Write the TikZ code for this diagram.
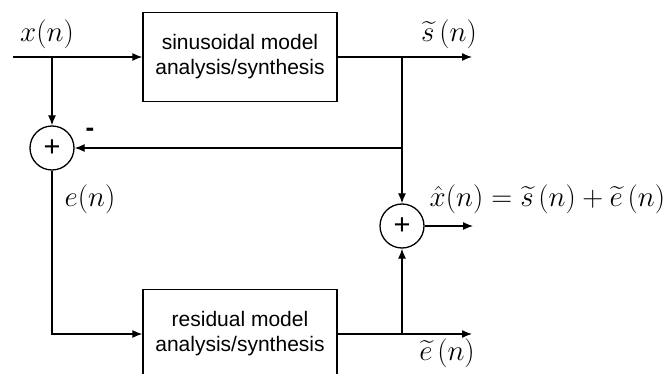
\RequirePackage{fix-cm}
\documentclass[tikz,border=0pt]{standalone}
\usepackage{amsmath}
\usepackage{fontspec}
\setmainfont{Liberation Sans}
\usetikzlibrary{arrows.meta,positioning}

\begin{document}
\begin{tikzpicture}[
      x=1pt, y=-1pt,
      >={Latex[length=10pt,width=8pt]},
      line width=1.3pt,
      blk/.style={draw, minimum width=194pt, minimum height=89pt, align=center, inner sep=0pt,
                  font=\fontsize{21}{25}\selectfont},
      summer/.style={draw, circle, minimum size=44pt, inner sep=0pt, font=\fontsize{29}{30}\selectfont},
      sig/.style={font=\fontsize{29}{32}\selectfont, inner sep=0pt}]
    \clip (0,0) rectangle (672,374);
    \fill[white] (0,0) rectangle (672,374);
    % blocks
    \node[blk] (sin) at (240,57) {sinusoidal model\\analysis/synthesis};
    \node[blk] (res) at (240,334) {residual model\\analysis/synthesis};
    \node[summer] (add) at (52,148) {+};
    \node[summer] (out) at (402,226) {+};
    % branch points and free ends
    \coordinate (in) at (13,57);
    \coordinate (split) at (52,57);
    \coordinate (tap) at (402,57);
    \coordinate (fb) at (402,148);
    \coordinate (tapr) at (402,334);
    \coordinate (sout) at (472,57);
    \coordinate (eout) at (472,334);
    \coordinate (xout) at (473,226);
    % connectors
    \draw[->] (in) -- (sin.west);
    \draw[->] (split) -- (add.north);
    \draw[->] (sin.east) -- (sout);
    \draw[->] (tap) -- (out.north);
    \draw[->] (fb) -- (add.east);
    \draw[->] (add.south) |- (res.west);
    \draw[->] (res.east) -- (eout);
    \draw[->] (tapr) -- (out.south);
    \draw[->] (out.east) -- (xout);
    % labels
    \node[sig] (xlab) at (47,34) {$x(n)$};
    \node[sig] (slab) at (449,34) {$\widetilde{s}\,(n)$};
    \node[sig] (elab) at (90,199) {$e(n)$};
    \node[sig, anchor=west] (xhlab) at (429,199) {$\hat{x}(n)=\widetilde{s}\,(n)+\widetilde{e}\,(n)$};
    \node[sig] (etlab) at (447,353) {$\widetilde{e}\,(n)$};
    \node[font=\fontsize{26}{28}\selectfont\bfseries, inner sep=0pt] (minus) at (90,132) {-};
  \end{tikzpicture}
\end{document}
